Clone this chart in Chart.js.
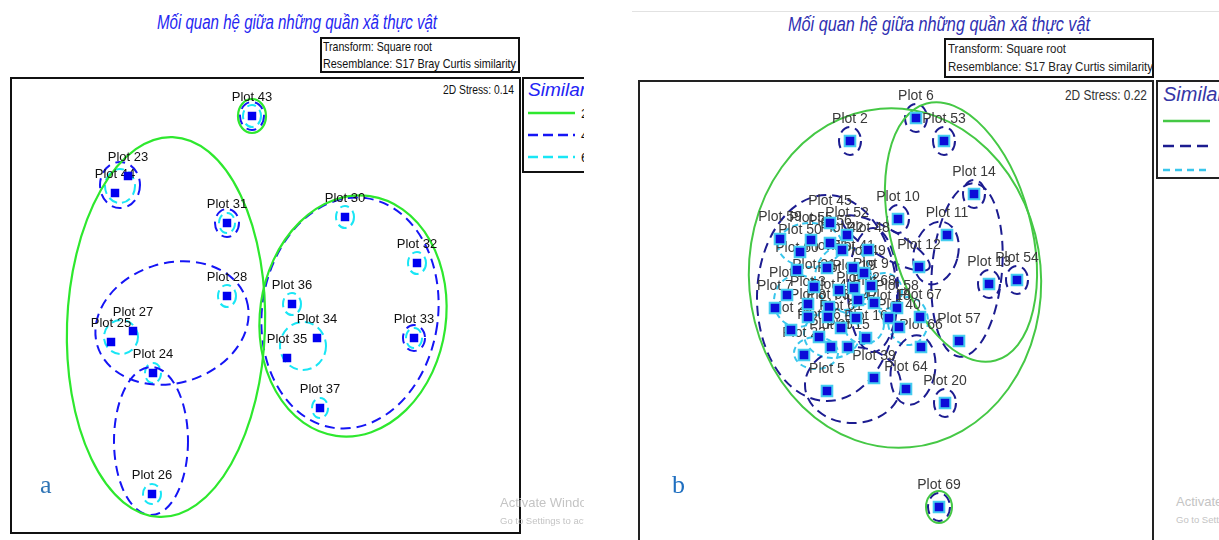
<!DOCTYPE html>
<html><head><meta charset="utf-8">
<script src="https://cdn.jsdelivr.net/npm/chart.js@4.4.1/dist/chart.umd.min.js"></script>
<style>
html,body{margin:0;padding:0;background:#fff;width:1219px;height:540px;overflow:hidden;position:relative;font-family:'Liberation Sans',Arial,sans-serif;}
.abs{position:absolute;white-space:nowrap;}
.fit{transform-origin:0 0;display:inline-block;}
.box{position:absolute;border:2px solid #111;box-sizing:border-box;}
canvas{position:absolute;}
</style></head><body>
<!-- panel a -->
<div class="abs" style="left:0;top:0;width:584px;height:540px;overflow:hidden;">
  <div class="abs fit" id="titleA" data-w="280" style="left:157px;top:11px;font-style:italic;font-size:20px;color:#2626f2;">Mối quan hệ giữa những quần xã thực vật</div>
  <div class="box" style="left:320px;top:37px;width:200px;height:36px;"></div>
  <div class="abs fit" data-w="109" style="left:323px;top:39px;font-size:13px;color:#111;">Transform: Square root</div>
  <div class="abs fit" data-w="193" style="left:323px;top:56px;font-size:13px;color:#111;">Resemblance: S17 Bray Curtis similarity</div>
  <div class="box" style="left:10px;top:77px;width:511px;height:457px;"></div>
  <div class="abs fit" data-w="71" data-right="514" style="top:82px;font-size:13px;color:#111;">2D Stress: 0.14</div>
  <div class="box" style="left:522px;top:77px;width:120px;height:96px;"></div>
  <div class="abs" style="left:528px;top:79px;font-style:italic;font-size:19px;color:#2323f5;">Similarity</div>
  <svg class="abs" style="left:522px;top:100px;" width="62" height="70">
    <line x1="6" y1="13" x2="53" y2="13" stroke="#2ee82e" stroke-width="2.5"/>
    <line x1="6" y1="35" x2="53" y2="35" stroke="#1515f5" stroke-width="2.5" stroke-dasharray="10,5"/>
    <line x1="6" y1="57" x2="53" y2="57" stroke="#19e6f5" stroke-width="2.5" stroke-dasharray="10,5"/>
    <text x="59" y="18" font-size="13" fill="#111">20</text>
    <text x="59" y="40" font-size="13" fill="#111">40</text>
    <text x="59" y="62" font-size="13" fill="#111">60</text>
  </svg>
  <canvas id="chartA" width="506" height="452" style="left:12px;top:79px;"></canvas>
  <div class="abs" style="left:40px;top:470px;font-family:'Liberation Serif','Times New Roman',serif;font-size:26px;color:#2e74b5;">a</div>
  <div class="abs" style="left:500px;top:495px;font-size:13px;color:#c4c4c4;">Activate Windows</div>
  <div class="abs" style="left:500px;top:515px;font-size:9.5px;color:#c4c4c4;">Go to Settings to activate Windows.</div>
</div>
<!-- panel b -->
<div class="abs" style="left:632px;top:11px;width:587px;height:1px;background:#e2e2e2;"></div>
<div class="abs fit" id="titleB" data-w="302" style="left:788px;top:12px;font-style:italic;font-size:21px;color:#2f2fb2;">Mối quan hệ giữa những quần xã thực vật</div>
<div class="box" style="left:944px;top:38px;width:210px;height:40px;"></div>
<div class="abs" style="left:946px;top:40px;width:206px;height:36px;overflow:hidden;">
  <div class="abs fit" data-w="118" style="left:2px;top:1px;font-size:13.5px;color:#222;">Transform: Square root</div>
  <div class="abs fit" data-w="205" style="left:2px;top:19px;font-size:13.5px;color:#222;">Resemblance: S17 Bray Curtis similarity</div>
</div>
<div class="box" style="left:638px;top:80px;width:516px;height:480px;border-color:#222;"></div>
<div class="abs fit" data-w="82" data-right="1147" style="top:87px;font-size:14px;color:#333;">2D Stress: 0.22</div>
<div class="box" style="left:1156px;top:80px;width:120px;height:99px;border-color:#222;"></div>
<div class="abs" style="left:1163px;top:83px;font-style:italic;font-size:20px;color:#3636a6;">Similarity</div>
<svg class="abs" style="left:1156px;top:108px;" width="63" height="70">
  <line x1="7" y1="13" x2="54" y2="13" stroke="#45c845" stroke-width="2.5"/>
  <line x1="7" y1="38" x2="54" y2="38" stroke="#1c1c90" stroke-width="2.5" stroke-dasharray="11,6"/>
  <line x1="7" y1="62" x2="54" y2="62" stroke="#39c6ec" stroke-width="2.5" stroke-dasharray="7,5"/>
</svg>
<canvas id="chartB" width="512" height="458" style="left:640px;top:82px;"></canvas>
<div class="abs" style="left:672px;top:470px;font-family:'Liberation Serif','Times New Roman',serif;font-size:26px;color:#1f6fc0;">b</div>
<div class="abs" style="left:1176px;top:494px;font-size:13px;color:#c4c4c4;">Activate Windows</div>
<div class="abs" style="left:1176px;top:514px;font-size:9.5px;color:#c4c4c4;">Go to Settings to activate Windows.</div>

<script>
// ---------- Panel a data (NMDS coordinates) ----------
const namesA = ['Plot 43','Plot 23','Plot 44','Plot 31','Plot 30','Plot 32','Plot 28','Plot 36','Plot 27','Plot 25','Plot 34','Plot 35','Plot 33','Plot 24','Plot 37','Plot 26'];
const xA = [-1.3,-13.7,-15.0,-3.8,8.0,15.2,-3.8,2.7,-13.2,-15.4,5.2,2.2,14.9,-11.2,5.5,-11.3];
const yA = [18.9,12.9,11.2,8.2,8.8,4.2,0.9,0.1,-2.6,-3.7,-3.3,-5.3,-3.3,-6.8,-10.3,-18.9];
// similarity envelopes: level, centre, semi-axes, rotation (deg)
const ellLevelA = [20,20,20, 40,40,40,40,40,40,40, 60,60,60,60,60,60,60,60,60,60,60,60,60];
const ellXA   = [-9.9,8.8,-1.3, -14.5,-3.8,-9.3,-11.4,8.5,14.9,-1.3, -1.3,-14.5,-3.8,8.0,15.2,-3.8,2.7,-14.4,3.8,14.9,-11.2,5.5,-11.3];
const ellYA   = [-2.2,-1.1,18.9, 12.0,8.2,-1.8,-13.6,-0.8,-3.3,18.9, 18.9,11.9,8.2,8.8,4.2,0.9,0.1,-3.2,-4.1,-3.3,-6.8,-10.3,-18.9];
const ellRXA  = [9.9,9.3,1.4, 2.0,1.2,7.8,3.7,8.8,1.1,1.2, 0.9,1.5,0.8,0.9,0.9,0.9,0.9,1.7,2.3,0.8,0.8,0.8,0.9];
const ellRYA  = [19.0,12.1,1.7, 2.3,1.4,6.0,7.4,11.6,1.3,1.4, 1.1,1.7,1.0,1.1,1.1,1.1,1.1,1.7,2.4,1.0,1.0,1.0,1.0];
const ellRotA = [2,8,0, 0,0,-17,0,8,0,0, 0,0,0,0,0,0,0,0,0,0,0,0,0];

// ---------- Panel b data ----------
const namesB = ['Plot 6','Plot 53','Plot 2','Plot 14','Plot 10','Plot 11','Plot 12','Plot 13','Plot 54','Plot 57','Plot 58','Plot 67','Plot 66','Plot 64','Plot 20','Plot 39','Plot 5','Plot 69',
  'Plot 45','Plot 52','Plot 48','Plot 59','Plot 55','Plot 56','Plot 50','Plot 42','Plot 51','Plot 60','Plot 41','Plot 49','Plot 19','Plot 1','Plot 7','Plot 3','Plot 4','Plot 62','Plot 63','Plot 8','Plot 61','Plot 18','Plot 40','Plot 16','Plot 65','Plot 15','Plot 22','Plot 21','Plot 9','Plot 17','Plot 29','Plot 46','Plot 47','Plot 68'];
const xB = [2.0,4.8,-4.6,7.8,0.2,5.1,2.3,9.3,12.1,6.3,0.1,2.4,2.5,1.0,4.9,-2.2,-6.9,4.3,
  -6.6,-4.9,-2.8,-11.6,-8.5,-6.6,-9.6,-5.4,-6.9,-9.9,-4.3,-3.2,-4.2,-10.9,-12.1,-8.8,-6.7,-3.8,-6.8,-8.8,-5.5,-0.7,0.3,-3.0,-6.5,-4.8,-9.2,-8.2,-2.5,-5.7,-10.5,-7.7,-4.0,-2.2];
const yB = [19.3,17.0,17.0,11.7,9.2,7.6,4.4,2.7,3.1,-3.0,0.3,-0.6,-3.6,-7.8,-9.2,-6.7,-8.0,-19.6,
  8.8,7.6,6.1,7.2,7.1,6.8,5.9,6.1,4.3,4.1,4.3,3.8,2.3,1.6,0.3,0.7,0.4,1.1,-0.6,-0.6,-1.7,-0.7,-1.6,-2.7,-3.6,-3.6,-4.4,2.4,2.5,2.1,-1.9,-2.6,-0.7,0.8];
const ellLevelB = [20,20,20, 40,40,40,40,40,40,40, 40,40,40,40,40,40,40,40,40, 60,60,60,60,60,60,60,60];
const ellXB   = [-0.1,6.5,4.3, -6.9,7.1,4.0,1.7,-4.3,-1.0,-2.3, -4.6,2.0,4.8,0.2,7.8,9.3,12.1,4.9,4.3, -8.6,-5.3,-9.8,-6.4,-3.2,1.2,-1.2,-8.0];
const ellYB   = [3.3,7.9,-19.6, 1.3,4.1,5.8,-5.9,-7.4,6.8,2.1, 17.0,19.3,17.0,9.2,11.7,2.7,3.1,-9.2,-19.6, 6.6,3.3,1.0,-2.3,-1.3,-1.0,2.0,-4.2];
const ellRXB  = [14.6,7.0,1.3, 7.0,3.5,2.2,2.2,4.8,5.0,2.5, 1.1,1.1,1.1,1.1,1.1,1.1,1.1,1.1,1.1, 3.2,2.8,2.4,2.8,2.0,2.0,1.8,2.2];
const ellRYB  = [17.0,13.3,1.6, 10.3,8.7,3.2,3.5,3.8,1.4,6.2, 1.4,1.4,1.4,1.4,1.4,1.4,1.4,1.4,1.4, 2.2,3.2,2.6,2.4,2.0,2.4,1.8,1.6];
const ellRotB = [-5,-15,0, 0,5,15,10,0,30,0, 0,0,0,0,0,0,0,0,0, 0,0,0,0,0,0,0,0];

const styleA = {20:{c:'#2ee82e',d:[],w:2.2},40:{c:'#1515f5',d:[10,6],w:2},60:{c:'#19e6f5',d:[9,5],w:2}};
const styleB = {20:{c:'#45c845',d:[],w:2},40:{c:'#1c1c90',d:[10,6],w:2},60:{c:'#39c6ec',d:[6,4],w:2}};

function makeChart(id, names, xs, ys, ell, st, rng, look) {
  const pts = xs.map((x,i)=>({x:x,y:ys[i]}));
  const overlay = {
    id:'overlay',
    beforeDatasetsDraw(chart){
      const ctx = chart.ctx, sx = chart.scales.x, sy = chart.scales.y;
      const ux = Math.abs(sx.getPixelForValue(1)-sx.getPixelForValue(0));
      const uy = Math.abs(sy.getPixelForValue(1)-sy.getPixelForValue(0));
      ctx.save();
      [20,40,60].slice().reverse().forEach(lv=>{
        ell.level.forEach((l,i)=>{
          if(l!==lv) return;
          const s = st[l];
          ctx.beginPath();
          ctx.setLineDash(s.d); ctx.lineWidth = s.w; ctx.strokeStyle = s.c;
          ctx.ellipse(sx.getPixelForValue(ell.x[i]), sy.getPixelForValue(ell.y[i]), ell.rx[i]*ux, ell.ry[i]*uy, ell.rot[i]*Math.PI/180, 0, Math.PI*2);
          ctx.stroke();
        });
      });
      ctx.setLineDash([]);
      ctx.font = look.font; ctx.fillStyle = look.text; ctx.textAlign='center'; ctx.textBaseline='middle';
      names.forEach((n,i)=>{
        ctx.fillText(n, sx.getPixelForValue(xs[i]), sy.getPixelForValue(ys[i]) - look.off);
      });
      ctx.restore();
    }
  };
  return new Chart(document.getElementById(id), {
    type:'scatter',
    data:{datasets:[{data:pts, pointStyle:'rect', pointRadius:look.r, pointBackgroundColor:look.mark, pointBorderColor:look.halo, pointBorderWidth:look.bw}]},
    options:{responsive:false, animation:false, devicePixelRatio:1,
      layout:{padding:0, autoPadding:false},
      plugins:{legend:{display:false}, tooltip:{enabled:false}},
      scales:{x:{display:false,min:rng[0],max:rng[1]}, y:{display:false,min:rng[2],max:rng[3]}}},
    plugins:[overlay]
  });
}

makeChart('chartA', namesA, xA, yA, {level:ellLevelA,x:ellXA,y:ellYA,rx:ellRXA,ry:ellRYA,rot:ellRotA}, styleA, [-25.3,25.3,-22.6,22.6],
  {r:6, mark:'#0000f0', halo:'#0000f0', bw:0, font:'13px "Liberation Sans", Arial', text:'#111', off:19});
makeChart('chartB', namesB, xB, yB, {level:ellLevelB,x:ellXB,y:ellYB,rx:ellRXB,ry:ellRYB,rot:ellRotB}, styleB, [-25.6,25.6,-22.9,22.9],
  {r:7.5, mark:'#0c0cd8', halo:'#45cdf0', bw:2, font:'14px "Liberation Sans", Arial', text:'#3a3a3a', off:22});

// condense texts to their target width
document.querySelectorAll('.fit').forEach(el=>{
  const w = el.getBoundingClientRect().width;
  const t = parseFloat(el.dataset.w);
  const s = t / w;
  el.style.transform = 'scaleX(' + s + ')';
  if (el.dataset.right) el.style.left = (parseFloat(el.dataset.right) - t) + 'px';
});
</script>
</body></html>
